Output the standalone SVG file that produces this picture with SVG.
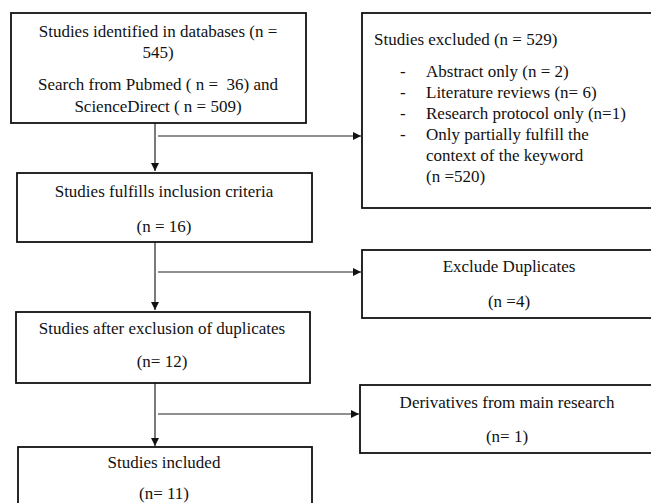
<svg xmlns="http://www.w3.org/2000/svg" width="651" height="503" viewBox="0 0 651 503">
<style>
.box{fill:#fff;stroke:#111;stroke-width:1.8}
.t{font-family:"Liberation Serif","Times New Roman",serif;font-size:17px;fill:#111;white-space:pre}
.c{text-anchor:middle}
.ln{fill:none;stroke:#222;stroke-width:1.2}
</style>
<defs>
<marker id="ah" viewBox="0 0 10 10" refX="10" refY="5" markerWidth="8" markerHeight="8" markerUnits="userSpaceOnUse" orient="auto">
<path d="M0,0 L10,5 L0,10 z" fill="#111"/>
</marker>
</defs>
<rect width="651" height="503" fill="#fff"/>
<g id="connectors">
<line class="ln" x1="155" y1="123" x2="155" y2="171" marker-end="url(#ah)"/>
<line class="ln" x1="158" y1="136" x2="361" y2="136" marker-end="url(#ah)"/>
<line class="ln" x1="155" y1="242" x2="155" y2="310" marker-end="url(#ah)"/>
<line class="ln" x1="158" y1="272" x2="361" y2="272" marker-end="url(#ah)"/>
<line class="ln" x1="155" y1="383" x2="155" y2="446" marker-end="url(#ah)"/>
<line class="ln" x1="158" y1="414" x2="359" y2="414" marker-end="url(#ah)"/>
</g>
<g id="identified">
<rect class="box" x="11" y="13" width="295" height="110"/>
<text class="t c" x="158" y="37">Studies identified in databases (n =</text>
<text class="t c" x="158" y="58">545)</text>
<text class="t c" x="158" y="90" xml:space="preserve">Search from Pubmed ( n =  36) and</text>
<text class="t c" x="158" y="112">ScienceDirect ( n = 509)</text>
</g>
<g id="excluded">
<rect class="box" x="362" y="13" width="300" height="195"/>
<text class="t" x="374" y="45">Studies excluded (n = 529)</text>
<text class="t" x="400" y="77">-</text><text class="t" x="426" y="77">Abstract only (n = 2)</text>
<text class="t" x="400" y="98">-</text><text class="t" x="426" y="98">Literature reviews (n= 6)</text>
<text class="t" x="400" y="119">-</text><text class="t" x="426" y="119">Research protocol only (n=1)</text>
<text class="t" x="400" y="140">-</text><text class="t" x="426" y="140">Only partially fulfill the</text>
<text class="t" x="426" y="161">context of the keyword</text>
<text class="t" x="426" y="182">(n =520)</text>
</g>
<g id="fulfills">
<rect class="box" x="17" y="173" width="295" height="69"/>
<text class="t c" x="164" y="197">Studies fulfills inclusion criteria</text>
<text class="t c" x="164" y="232">(n = 16)</text>
</g>
<g id="duplicates">
<rect class="box" x="362" y="250" width="300" height="68"/>
<text class="t c" x="509" y="272">Exclude Duplicates</text>
<text class="t c" x="509" y="307">(n =4)</text>
</g>
<g id="afterdup">
<rect class="box" x="16" y="312" width="294" height="71"/>
<text class="t c" x="162" y="334">Studies after exclusion of duplicates</text>
<text class="t c" x="162" y="367">(n= 12)</text>
</g>
<g id="derivatives">
<rect class="box" x="360" y="385" width="300" height="68"/>
<text class="t c" x="507" y="408">Derivatives from main research</text>
<text class="t c" x="507" y="442">(n= 1)</text>
</g>
<g id="included">
<rect class="box" x="18" y="447" width="294" height="70"/>
<text class="t c" x="164" y="468">Studies included</text>
<text class="t c" x="164" y="499">(n= 11)</text>
</g>
</svg>
